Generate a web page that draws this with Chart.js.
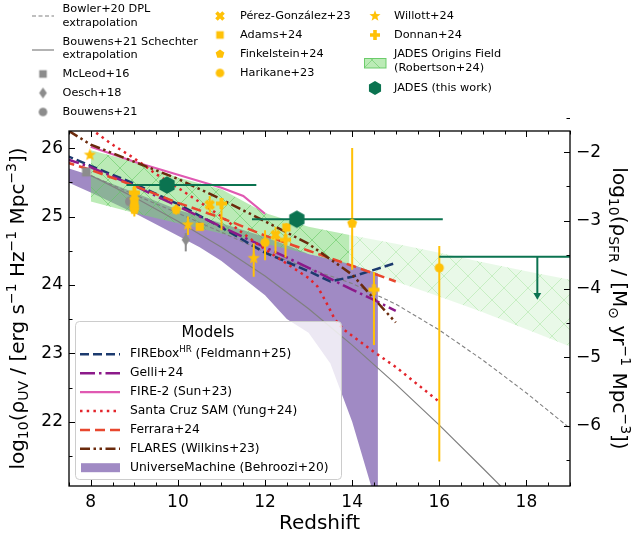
<!DOCTYPE html>
<html>
<head>
<meta charset="utf-8">
<script src="https://cdn.jsdelivr.net/npm/chart.js@4.4.1/dist/chart.umd.min.js"></script>
<style>
  html, body { margin: 0; padding: 0; background: #fff; }
  canvas { display: block; }
</style>
</head>
<body>
<canvas id="myChart" width="634" height="533"></canvas>
<script>
// ---------- data (redshift, log10 rho_UV) ----------
const OFFSET = -27.94; // log10 rho_SFR = log10 rho_UV + OFFSET

const bowlerZ = [8, 9, 10, 11, 12, 13, 14, 15, 16, 17, 18, 19.2];
const bowlerV = [25.6, 25.32, 25.05, 24.77, 24.48, 24.24, 24.02, 23.72, 23.34, 22.9, 22.42, 21.8];

const bouwensZ = [8, 9, 10, 11, 12, 13, 14, 15, 16, 17, 17.5];
const bouwensV = [25.6, 25.28, 24.93, 24.55, 24.13, 23.65, 23.12, 22.55, 21.95, 21.32, 21.0];

const fireboxZ = [7.4, 8, 9, 10, 11, 12, 13, 13.5, 14, 14.5, 15];
const fireboxV = [25.9, 25.74, 25.48, 25.18, 24.84, 24.47, 24.2, 24.05, 24.12, 24.22, 24.32];

const gelliZ = [7.4, 8, 9, 10, 11, 12, 13, 14, 14.5, 15];
const gelliV = [25.85, 25.72, 25.45, 25.15, 24.85, 24.55, 24.25, 23.93, 23.78, 23.62];

const fire2Z = [8, 9, 10, 11, 11.5, 12];
const fire2V = [26.02, 25.8, 25.61, 25.42, 25.3, 25.04];

const samZ = [8, 8.5, 9, 9.5, 10, 11, 11.5, 12, 12.5, 13, 13.2, 13.4, 13.6, 13.8, 14.5, 15, 16];
const samV = [26.28, 26.05, 25.85, 25.62, 25.42, 25.0, 24.75, 24.52, 24.31, 24.1, 23.98, 23.75, 23.5, 23.35, 23.02, 22.8, 22.29];

const ferraraZ = [7.4, 8, 9, 10, 11, 12, 13, 14, 15];
const ferraraV = [25.8, 25.68, 25.45, 25.2, 24.98, 24.72, 24.5, 24.28, 24.05];

const flaresZ = [7.5, 8, 9, 10, 11, 12, 13, 14, 14.5, 15];
const flaresV = [26.25, 26.05, 25.8, 25.55, 25.25, 24.93, 24.6, 24.15, 23.8, 23.45];

const umZ = [7.4, 8, 9, 10, 10.5, 11, 12, 12.5, 13, 13.5, 14, 14.44, 14.59];
const umHi = [25.72, 25.6, 25.35, 25.1, 25.0, 24.9, 24.7, 24.58, 24.45, 24.38, 24.3, 24.2, 24.17];
const umLo = [25.52, 25.35, 25.05, 24.72, 24.55, 24.35, 23.85, 23.5, 23.3, 22.85, 22.0, 21.05, 20.5];

const jofZ = [8, 9, 10, 11, 12, 13, 13.94];
const jofHi = [25.97, 25.8, 25.57, 25.4, 25.05, 24.85, 24.73];
const jofLo = [25.22, 25.05, 24.9, 24.75, 24.6, 24.45, 24.3];
const jofExtZ = [13.94, 15, 16, 17, 18, 19.2];
const jofExtHi = [24.73, 24.6, 24.47, 24.33, 24.2, 24.05];
const jofExtLo = [24.3, 24.05, 23.83, 23.6, 23.35, 23.05];

// ---------- observations ----------
const mcleodZ = [7.9], mcleodV = [25.65];
const oeschZ = [10.18], oeschV = [24.66], oeschLo = [24.49], oeschHi = [24.76];
const bouwensObsZ = [8.9], bouwensObsV = [25.22];

const perezZ = [9.0, 10.73, 12.24], perezV = [25.3, 25.17, 24.73], perezLo = [25.15, 25.05, 24.46], perezHi = [25.45, 25.3, 24.85];
const adamsZ = [9.0, 10.5, 12.49], adamsV = [25.2, 24.85, 24.84], adamsLo = [25.05, 24.8, 24.8], adamsHi = [25.35, 24.9, 24.9];
const finkZ = [9.0, 9.96, 14.0], finkV = [25.1, 25.1, 24.9], finkLo = [25.0, 25.03, 24.22], finkHi = [25.2, 25.17, 26.0];
const harikaneZ = [9.0, 12.0, 16.0], harikaneV = [25.15, 24.62, 24.25], harikaneLo = [25.05, 24.36, 21.42], harikaneHi = [25.25, 24.8, 24.57];
const willottZ = [7.98, 10.23, 11.74], willottV = [25.9, 24.88, 24.39], willottLo = [25.85, 24.73, 24.12], willottHi = [25.95, 25.0, 24.61];
const donnanZ = [9.0, 11.0, 12.47, 14.5], donnanV = [25.35, 25.19, 24.66, 23.93], donnanLo = [25.25, 24.8, 24.4, 23.12], donnanHi = [25.45, 25.27, 24.85, 24.19];

const jadesZ = [9.75, 12.73], jadesV = [25.46, 24.96], jadesZlo = [8.82, 11.7], jadesZhi = [11.8, 16.08];
const limZlo = [16.0], limZhi = [19.5], limZ = [18.25], limV = [24.41], limTip = [23.85];

// ---------- helpers ----------
const YEL = '#ffc107', GRN = '#0b7350', GRY = '#8c8c8c';
const FONT = '"DejaVu Sans", sans-serif';
const xy = (xs, ys) => xs.map((x, i) => ({ x: x, y: ys[i] }));

function vBars(xs, lo, hi) {
    const out = [];
    xs.forEach((x, i) => { out.push({ x: x, y: lo[i] }, { x: x, y: hi[i] }, { x: x, y: null }); });
    return out;
}
function hBars(ys, lo, hi) {
    const out = [];
    ys.forEach((y, i) => { out.push({ x: lo[i], y: y }, { x: hi[i], y: y }, { x: hi[i], y: null }); });
    return out;
}

function marker(shape, r, fill) {
    const s = Math.ceil(r * 2 + 4);
    const c = document.createElement('canvas');
    c.width = s; c.height = s;
    const g = c.getContext('2d');
    g.translate(s / 2, s / 2);
    g.beginPath();
    const poly = (n, rot, rr) => {
        for (let i = 0; i < n; i++) {
            const a = rot + i * 2 * Math.PI / n;
            const p = [Math.cos(a) * rr(i), Math.sin(a) * rr(i)];
            if (i === 0) g.moveTo(p[0], p[1]); else g.lineTo(p[0], p[1]);
        }
    };
    if (shape === 'circle') g.arc(0, 0, r, 0, 2 * Math.PI);
    else if (shape === 'square') g.rect(-r * 0.88, -r * 0.88, r * 1.76, r * 1.76);
    else if (shape === 'diamond') { g.moveTo(0, -r); g.lineTo(r * 0.7, 0); g.lineTo(0, r); g.lineTo(-r * 0.7, 0); }
    else if (shape === 'star') poly(10, -Math.PI / 2, i => (i % 2 ? r * 0.42 : r));
    else if (shape === 'pentagon') poly(5, -Math.PI / 2, () => r);
    else if (shape === 'hexagon') poly(6, -Math.PI / 2, () => r);
    else if (shape === 'plus' || shape === 'x') {
        const w = r * 0.36;
        if (shape === 'x') g.rotate(Math.PI / 4);
        g.moveTo(-w, -r); g.lineTo(w, -r); g.lineTo(w, -w); g.lineTo(r, -w); g.lineTo(r, w); g.lineTo(w, w);
        g.lineTo(w, r); g.lineTo(-w, r); g.lineTo(-w, w); g.lineTo(-r, w); g.lineTo(-r, -w); g.lineTo(-w, -w);
    }
    g.closePath();
    g.fillStyle = fill;
    g.fill();
    return c;
}

function hatch(bg, line) {
    const c = document.createElement('canvas');
    c.width = 24; c.height = 24;
    const g = c.getContext('2d');
    g.fillStyle = bg; g.fillRect(0, 0, 24, 24);
    g.strokeStyle = line; g.lineWidth = 1;
    g.beginPath();
    g.moveTo(-2, -2); g.lineTo(26, 26);
    g.moveTo(26, -2); g.lineTo(-2, 26);
    g.stroke();
    return document.createElement('canvas').getContext('2d').createPattern(c, 'repeat');
}

// plot markers and the smaller legend markers
const M = {
    mcleod: marker('square', 5, GRY),
    oesch: marker('diamond', 6, GRY),
    bouwens: marker('circle', 5, GRY),
    perez: marker('x', 5.5, YEL),
    adams: marker('square', 4.7, YEL),
    fink: marker('pentagon', 5.2, YEL),
    harikane: marker('circle', 4.6, YEL),
    willott: marker('star', 6.5, YEL),
    donnan: marker('plus', 5.5, YEL),
    jades: marker('hexagon', 8.8, GRN)
};
const L = {
    mcleod: marker('square', 4.3, GRY),
    oesch: marker('diamond', 5.5, GRY),
    bouwens: marker('circle', 4.3, GRY),
    perez: marker('x', 5, YEL),
    adams: marker('square', 4.3, YEL),
    fink: marker('pentagon', 4.6, YEL),
    harikane: marker('circle', 4.3, YEL),
    willott: marker('star', 5.8, YEL),
    donnan: marker('plus', 5, YEL),
    jades: marker('hexagon', 7, GRN)
};

// ---------- datasets ----------
const datasets = [];
function add(ds) { datasets.push(ds); return datasets.length - 1; }
function lineDs(xs, ys, color, width, dash, order) {
    return add({ data: xy(xs, ys), borderColor: color, borderWidth: width, borderDash: dash,
        pointRadius: 0, fill: false, tension: 0, order: order });
}

// UniverseMachine band
const umLoIdx = add({ data: xy(umZ, umLo), borderWidth: 0, borderColor: 'transparent', pointRadius: 0, fill: false, order: 100 });
add({ data: xy(umZ, umHi), borderWidth: 0, borderColor: 'transparent', pointRadius: 0,
    fill: { target: umLoIdx }, backgroundColor: '#a08ac4', order: 99 });
// JADES Origins Field band
const jLoIdx = add({ data: xy(jofZ, jofLo), borderWidth: 0, borderColor: 'transparent', pointRadius: 0, fill: false, order: 98 });
add({ data: xy(jofZ, jofHi), borderWidth: 0, borderColor: 'transparent', pointRadius: 0,
    fill: { target: jLoIdx }, backgroundColor: hatch('rgba(120,215,110,0.5)', 'rgba(95,200,95,0.55)'), order: 97 });
const jeLoIdx = add({ data: xy(jofExtZ, jofExtLo), borderWidth: 0, borderColor: 'transparent', pointRadius: 0, fill: false, order: 96 });
add({ data: xy(jofExtZ, jofExtHi), borderWidth: 0, borderColor: 'transparent', pointRadius: 0,
    fill: { target: jeLoIdx }, backgroundColor: hatch('rgba(120,215,110,0.16)', 'rgba(120,215,110,0.3)'), order: 95 });

// extrapolations
lineDs(bowlerZ, bowlerV, '#808080', 1.1, [4, 2.5], 90);
lineDs(bouwensZ, bouwensV, '#808080', 1.2, [], 89);

// models
lineDs(fireboxZ, fireboxV, '#1c3a6e', 2.5, [9, 4], 60);
lineDs(gelliZ, gelliV, '#8c1a8a', 2.5, [15, 4, 2.5, 4], 59);
lineDs(fire2Z, fire2V, '#e059b2', 2.2, [], 58);
lineDs(samZ, samV, '#e3242b', 2.5, [2.5, 4.2], 57);
lineDs(ferraraZ, ferraraV, '#e8472e', 2.5, [10, 5], 56);
lineDs(flaresZ, flaresV, '#6b2a0c', 2.5, [10, 3.5, 2.5, 3.5, 2.5, 3.5], 55);

// error bars
function errDs(data, color, width, order) {
    return add({ data: data, borderColor: color, borderWidth: width, pointRadius: 0, fill: false,
        spanGaps: false, tension: 0, order: order });
}
errDs(vBars(oeschZ, oeschLo, oeschHi), GRY, 2, 30);
errDs(vBars(perezZ, perezLo, perezHi), YEL, 2, 30);
errDs(vBars(adamsZ, adamsLo, adamsHi), YEL, 2, 30);
errDs(vBars(finkZ, finkLo, finkHi), YEL, 2, 30);
errDs(vBars(harikaneZ, harikaneLo, harikaneHi), YEL, 2, 30);
errDs(vBars(willottZ, willottLo, willottHi), YEL, 2, 30);
errDs(vBars(donnanZ, donnanLo, donnanHi), YEL, 2, 30);
errDs(hBars(jadesV, jadesZlo, jadesZhi), GRN, 2, 20);
errDs(hBars(limV, limZlo, limZhi), GRN, 2, 20);
errDs(vBars(limZ, limTip, limV), GRN, 2, 20);

// markers
function ptDs(xs, ys, img, order) {
    return add({ data: xy(xs, ys), showLine: false, pointStyle: img, pointRadius: 6, order: order });
}
ptDs(mcleodZ, mcleodV, M.mcleod, 25);
ptDs(oeschZ, oeschV, M.oesch, 25);
ptDs(bouwensObsZ, bouwensObsV, M.bouwens, 25);
ptDs(perezZ, perezV, M.perez, 15);
ptDs(adamsZ, adamsV, M.adams, 15);
ptDs(finkZ, finkV, M.fink, 15);
ptDs(harikaneZ, harikaneV, M.harikane, 15);
ptDs(willottZ, willottV, M.willott, 15);
ptDs(donnanZ, donnanV, M.donnan, 15);
ptDs(jadesZ, jadesV, M.jades, 10);
add({ data: xy(limZ, limTip), showLine: false, pointStyle: 'triangle', rotation: 180, pointRadius: 4.5,
    backgroundColor: GRN, borderColor: GRN, borderWidth: 0, order: 10 });

// ---------- decorations: frame, inward ticks, titles, legends ----------
function rich(g, parts, size, x, y, align) {
    const sz = p => (p[1] ? size * 0.7 : size);
    let w = 0;
    parts.forEach(p => { g.font = sz(p) + 'px ' + FONT; w += g.measureText(p[0]).width; });
    let cx = align === 'center' ? x - w / 2 : x;
    g.textAlign = 'left';
    parts.forEach(p => {
        g.font = sz(p) + 'px ' + FONT;
        const dy = p[1] === 1 ? size * 0.22 : p[1] === 2 ? -size * 0.4 : 0;
        g.fillText(p[0], cx, y + dy);
        cx += g.measureText(p[0]).width;
    });
}

function dashLine(g, x0, x1, y, color, width, dash) {
    g.save();
    g.strokeStyle = color; g.lineWidth = width; g.setLineDash(dash);
    g.beginPath(); g.moveTo(x0, y); g.lineTo(x1, y); g.stroke();
    g.restore();
}
function stamp(g, img, x, y) { g.drawImage(img, x - img.width / 2, y - img.height / 2); }

const decor = {
    id: 'decor',
    afterDraw(chart) {
        const g = chart.ctx, a = chart.chartArea;
        const sx = chart.scales.x, sy = chart.scales.y, sy2 = chart.scales.y2;
        g.save();

        // models legend box
        g.beginPath();
        g.roundRect(75.5, 321.5, 266, 158, 4);
        g.fillStyle = 'rgba(255,255,255,0.8)'; g.fill();
        g.strokeStyle = '#cccccc'; g.lineWidth = 1; g.stroke();
        g.fillStyle = '#000'; g.textBaseline = 'middle';
        g.font = '15px ' + FONT; g.textAlign = 'center';
        g.fillText('Models', 208, 333);
        const rows = [
            ['#1c3a6e', [9, 4], 2.5, [['FIREbox', 0], ['HR', 2], [' (Feldmann+25)', 0]]],
            ['#8c1a8a', [15, 4, 2.5, 4], 2.5, [['Gelli+24', 0]]],
            ['#e059b2', [], 2.2, [['FIRE-2 (Sun+23)', 0]]],
            ['#e3242b', [2.5, 4.2], 2.5, [['Santa Cruz SAM (Yung+24)', 0]]],
            ['#e8472e', [10, 5], 2.5, [['Ferrara+24', 0]]],
            ['#6b2a0c', [10, 3.5, 2.5, 3.5, 2.5, 3.5], 2.5, [['FLARES (Wilkins+23)', 0]]],
            [null, null, 0, [['UniverseMachine (Behroozi+20)', 0]]]
        ];
        rows.forEach((r, i) => {
            const y = 354.3 + i * 18.9;
            if (r[0]) dashLine(g, 80, 120, y, r[0], r[2], r[1]);
            else { g.fillStyle = '#a08ac4'; g.fillRect(81, y - 4.5, 39, 9); }
            g.fillStyle = '#000';
            rich(g, r[3], 12.3, 130, y, 'left');
        });

        // frame
        g.strokeStyle = '#000'; g.lineWidth = 1.3; g.setLineDash([]);
        g.strokeRect(a.left, a.top, a.right - a.left, a.bottom - a.top);

        // inward ticks
        g.lineWidth = 1;
        g.beginPath();
        for (let v = 7.5; v <= 19.001; v += 0.5) {
            const px = Math.round(sx.getPixelForValue(v)) + 0.5;
            const len = Math.abs(v % 2) < 1e-6 ? 6 : 3.5;
            g.moveTo(px, a.bottom); g.lineTo(px, a.bottom - len);
            g.moveTo(px, a.top); g.lineTo(px, a.top + len);
        }
        for (let v = 21.5; v <= 26.25; v += 0.5) {
            const py = Math.round(sy.getPixelForValue(v)) + 0.5;
            const len = Math.abs(v % 1) < 1e-6 ? 6 : 3.5;
            g.moveTo(a.left, py); g.lineTo(a.left + len, py);
        }
        for (let v = -6.5; v <= -1.5; v += 0.5) {
            const py = Math.round(sy2.getPixelForValue(v)) + 0.5;
            const len = Math.abs(v % 1) < 1e-6 ? 6 : 3.5;
            g.moveTo(a.right, py); g.lineTo(a.right - len, py);
        }
        g.stroke();

        // axis titles
        g.fillStyle = '#000';
        g.textBaseline = 'alphabetic';
        g.font = '20px ' + FONT; g.textAlign = 'center';
        g.fillText('Redshift', (a.left + a.right) / 2, 529);
        g.save();
        g.translate(17, (a.top + a.bottom) / 2); g.rotate(-Math.PI / 2);
        rich(g, [['log', 0], ['10', 1], ['(ρ', 0], ['UV', 1], [' / [erg s', 0], ['−1', 2], [' Hz', 0], ['−1', 2],
            [' Mpc', 0], ['−3', 2], ['])', 0]], 20, 0, 7, 'center');
        g.restore();
        g.save();
        g.translate(620, (a.top + a.bottom) / 2); g.rotate(Math.PI / 2);
        rich(g, [['log', 0], ['10', 1], ['(ρ', 0], ['SFR', 1], [' / [M', 0], ['⊙', 1], [' yr', 0], ['−1', 2],
            [' Mpc', 0], ['−3', 2], ['])', 0]], 20, 0, 7, 'center');
        g.restore();

        // top legend
        g.textBaseline = 'middle';
        g.font = '11.3px ' + FONT; g.textAlign = 'left';
        dashLine(g, 32, 54, 16, '#808080', 1.1, [4, 2.5]);
        dashLine(g, 32, 54, 50, '#808080', 1.2, []);
        g.fillStyle = '#000';
        g.fillText('Bowler+20 DPL', 62.5, 9.5);
        g.fillText('extrapolation', 62.5, 22.7);
        g.fillText('Bouwens+21 Schechter', 62.5, 41.7);
        g.fillText('extrapolation', 62.5, 55);
        const col = (img, mx, tx, y, label) => { stamp(g, img, mx, y); g.fillStyle = '#000'; g.fillText(label, tx, y); };
        col(L.mcleod, 43, 62.5, 74, 'McLeod+16');
        col(L.oesch, 43, 62.5, 93, 'Oesch+18');
        col(L.bouwens, 43, 62.5, 112, 'Bouwens+21');
        col(L.perez, 220, 240, 16, 'Pérez-González+23');
        col(L.adams, 220, 240, 35, 'Adams+24');
        col(L.fink, 220, 240, 54, 'Finkelstein+24');
        col(L.harikane, 220, 240, 73, 'Harikane+23');
        col(L.willott, 375, 394, 16, 'Willott+24');
        col(L.donnan, 375, 394, 35, 'Donnan+24');
        g.fillStyle = hatch('rgba(120,215,110,0.5)', 'rgba(95,200,95,0.55)');
        g.fillRect(364.5, 58.5, 21.5, 9.5);
        g.strokeStyle = 'rgba(95,200,95,0.9)'; g.lineWidth = 1;
        g.strokeRect(364.5, 58.5, 21.5, 9.5);
        g.fillStyle = '#000';
        g.fillText('JADES Origins Field', 394, 54);
        g.fillText('(Robertson+24)', 394, 68);
        col(L.jades, 375, 394, 88, 'JADES (this work)');

        g.restore();
    }
};

const tickFont = { family: FONT, size: 17 };
new Chart(document.getElementById('myChart').getContext('2d'), {
    type: 'line',
    data: { datasets: datasets },
    options: {
        responsive: false,
        animation: false,
        layout: { padding: { top: 131, left: 0, right: 0, bottom: 0 } },
        plugins: { legend: { display: false }, tooltip: { enabled: false } },
        scales: {
            x: {
                type: 'linear', min: 7.5, max: 19,
                afterFit: s => { s.height = 47; },
                grid: { display: false, drawTicks: false }, border: { display: false },
                ticks: { stepSize: 2, includeBounds: false, padding: 6, color: '#000', font: tickFont }
            },
            y: {
                type: 'linear', position: 'left', min: 21.06, max: 26.25,
                afterFit: s => { s.width = 69; },
                grid: { display: false, drawTicks: false }, border: { display: false },
                ticks: { stepSize: 1, includeBounds: false, padding: 6, color: '#000', font: tickFont }
            },
            y2: {
                type: 'linear', position: 'right', min: 21.06 + OFFSET, max: 26.25 + OFFSET,
                afterFit: s => { s.width = 64; },
                grid: { display: false, drawTicks: false }, border: { display: false },
                ticks: { stepSize: 1, includeBounds: false, padding: 6, color: '#000', font: tickFont,
                    callback: v => (v < 0 ? '\u2212' : '') + Math.abs(Math.round(v)) }
            }
        }
    },
    plugins: [decor]
});
</script>
</body>
</html>
